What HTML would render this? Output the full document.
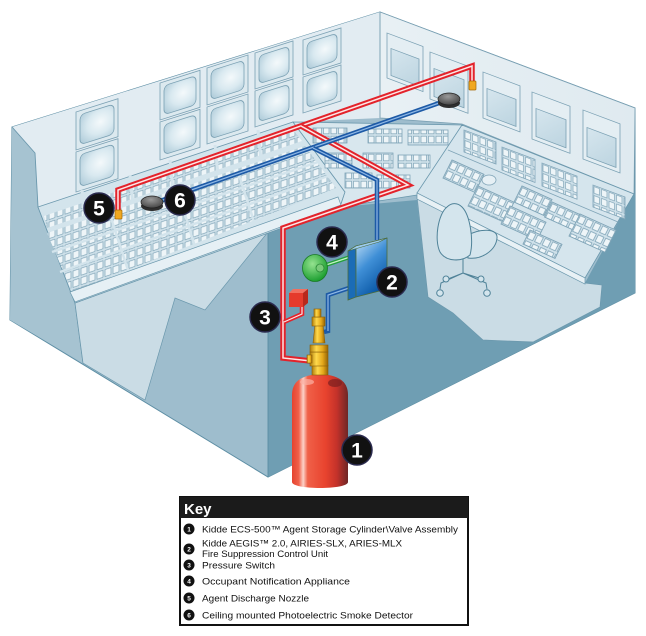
<!DOCTYPE html>
<html><head><meta charset="utf-8"><style>html,body{margin:0;padding:0;background:#fff;}svg{display:block;}</style></head>
<body>
<svg xmlns="http://www.w3.org/2000/svg" width="646" height="636" viewBox="0 0 646 636" font-family="'Liberation Sans', sans-serif">
<defs>
<pattern id="g0" width="7.5" height="9" patternUnits="userSpaceOnUse"><rect width="7.5" height="9" fill="#cfe1ea"/><rect x="1" y="1.2" width="5.5" height="6.6" fill="#eef5f8" stroke="#7fa4b7" stroke-width="0.7"/></pattern>
<pattern id="gl" width="8" height="9.5" patternUnits="userSpaceOnUse" patternTransform="skewY(-18.8)"><rect width="8" height="9.5" fill="#cfe1ea"/><rect x="1" y="1.3" width="6" height="7" fill="#eef5f8" stroke="#7fa4b7" stroke-width="0.7"/></pattern>
<radialGradient id="scrL" cx="0.6" cy="0.45" r="0.7"><stop offset="0" stop-color="#f4f9fb"/><stop offset="0.55" stop-color="#d9e9f0"/><stop offset="1" stop-color="#b4cfdc"/></radialGradient>
<linearGradient id="scrR" x1="0" y1="0" x2="1" y2="1"><stop offset="0" stop-color="#d6e6ee"/><stop offset="1" stop-color="#bcd4e0"/></linearGradient>
<linearGradient id="cyl" x1="0" x2="1" y1="0" y2="0"><stop offset="0" stop-color="#e5432f"/><stop offset="0.12" stop-color="#f0604a"/><stop offset="0.2" stop-color="#fcd2c8"/><stop offset="0.28" stop-color="#f06048"/><stop offset="0.6" stop-color="#e8432e"/><stop offset="0.8" stop-color="#c4322a"/><stop offset="1" stop-color="#6e2626"/></linearGradient>
<linearGradient id="box" x1="0" y1="0" x2="0.5" y2="1"><stop offset="0" stop-color="#c6e3f8"/><stop offset="0.5" stop-color="#3f8fd6"/><stop offset="1" stop-color="#0a58a6"/></linearGradient>
<radialGradient id="horn" cx="0.4" cy="0.35" r="0.7"><stop offset="0" stop-color="#95e390"/><stop offset="1" stop-color="#149a2a"/></radialGradient>
<linearGradient id="gold" x1="0" x2="1"><stop offset="0" stop-color="#b07d0c"/><stop offset="0.35" stop-color="#ffd94c"/><stop offset="0.7" stop-color="#e4a81a"/><stop offset="1" stop-color="#946406"/></linearGradient>
<radialGradient id="det" cx="0.45" cy="0.3" r="0.8"><stop offset="0" stop-color="#9a9a9a"/><stop offset="1" stop-color="#3a3a3a"/></radialGradient>
<linearGradient id="wallR" x1="0" y1="0" x2="1" y2="0"><stop offset="0" stop-color="#e8f0f4"/><stop offset="1" stop-color="#dfeaf0"/></linearGradient>
</defs>

<polygon points="12,127 380,12 635,108 635,293 268,477 10,320" fill="#9ebdcd" stroke="#5d8ea4" stroke-width="1"/>
<polygon points="12,127 35,153 38,207 75,303 83,363 10,320" fill="#a6c3d1"/>
<polygon points="12,127 380,12 380,118 293,122 38,207 35,153" fill="#e2ecf2"/>
<polygon points="380,12 635,108 634,194 462,124 380,118" fill="url(#wallR)" stroke="#7aa0b3" stroke-width="0.8"/>
<line x1="380" y1="12" x2="380" y2="118" stroke="#7aa0b3" stroke-width="0.8"/>
<polyline points="12,127 35,153 38,207 75,303 83,363" fill="none" stroke="#6b98ad" stroke-width="0.9"/>

<g stroke="#7aa0b3" stroke-width="0.8">
<g transform="matrix(1,-0.317,0,1,76,112)"><rect width="42" height="38" fill="#dce9ef"/><rect x="4" y="4" width="34" height="30" rx="5" fill="url(#scrL)"/></g>
<g transform="matrix(1,-0.317,0,1,76,152)"><rect width="42" height="40" fill="#dce9ef"/><rect x="4" y="4" width="34" height="32" rx="5" fill="url(#scrL)"/></g>
<g transform="matrix(1,-0.317,0,1,160,83)"><rect width="40" height="37" fill="#dce9ef"/><rect x="4" y="4" width="32" height="29" rx="5" fill="url(#scrL)"/></g>
<g transform="matrix(1,-0.317,0,1,160,122)"><rect width="40" height="38" fill="#dce9ef"/><rect x="4" y="4" width="32" height="30" rx="5" fill="url(#scrL)"/></g>
<g transform="matrix(1,-0.317,0,1,207,68)"><rect width="41" height="37" fill="#dce9ef"/><rect x="4" y="4" width="33" height="29" rx="5" fill="url(#scrL)"/></g>
<g transform="matrix(1,-0.317,0,1,207,107)"><rect width="41" height="37" fill="#dce9ef"/><rect x="4" y="4" width="33" height="29" rx="5" fill="url(#scrL)"/></g>
<g transform="matrix(1,-0.317,0,1,255,53)"><rect width="38" height="36" fill="#dce9ef"/><rect x="4" y="4" width="30" height="28" rx="5" fill="url(#scrL)"/></g>
<g transform="matrix(1,-0.317,0,1,255,91)"><rect width="38" height="36" fill="#dce9ef"/><rect x="4" y="4" width="30" height="28" rx="5" fill="url(#scrL)"/></g>
<g transform="matrix(1,-0.317,0,1,303,40)"><rect width="38" height="35" fill="#dce9ef"/><rect x="4" y="4" width="30" height="27" rx="5" fill="url(#scrL)"/></g>
<g transform="matrix(1,-0.317,0,1,303,77)"><rect width="38" height="36" fill="#dce9ef"/><rect x="4" y="4" width="30" height="28" rx="5" fill="url(#scrL)"/></g>
</g>
<g stroke="#7aa0b3" stroke-width="0.8">
<g transform="matrix(1,0.376,0,1,387,33)"><rect width="36" height="45" fill="#e4eef3"/><rect x="4" y="14" width="28" height="27" fill="url(#scrR)"/></g>
<g transform="matrix(1,0.376,0,1,430,52)"><rect width="38" height="47" fill="#e4eef3"/><rect x="4" y="15" width="30" height="28" fill="url(#scrR)"/></g>
<g transform="matrix(1,0.376,0,1,483,72)"><rect width="37" height="46" fill="#e4eef3"/><rect x="4" y="15" width="29" height="27" fill="url(#scrR)"/></g>
<g transform="matrix(1,0.376,0,1,532,92)"><rect width="38" height="47" fill="#e4eef3"/><rect x="4" y="15" width="30" height="28" fill="url(#scrR)"/></g>
<g transform="matrix(1,0.376,0,1,583,110)"><rect width="37" height="49" fill="#e4eef3"/><rect x="4" y="16" width="29" height="29" fill="url(#scrR)"/></g>
</g>

<polygon points="268,232 340,207 417,200 428,297 453,313 483,340 533,342 600,307 602,285 585,283 633,195 635,195 635,293 268,477" fill="#6f9eb3"/>
<polygon points="417,196 585,283 602,285 600,307 533,342 483,340 453,313 428,297" fill="#cadce5" stroke="#6b98ad" stroke-width="0.7"/>
<polygon points="75,303 83,363 145,400 175,298 205,310 268,232" fill="#cadce5" stroke="#6b98ad" stroke-width="0.7"/>
<line x1="268" y1="232" x2="268" y2="477" stroke="#5d8ea4" stroke-width="0.9"/>

<polygon points="38,207 293,122 345,192 340,207 75,303" fill="#d3e4ec" stroke="#6b98ad" stroke-width="0.8"/>
<polygon points="44,216 294,131 302,141 47,228" fill="url(#gl)"/>
<g stroke="#d3e4ec" stroke-width="3">
<line x1="82" y1="190" x2="86" y2="230"/><line x1="130" y1="175" x2="134" y2="215"/><line x1="170" y1="160" x2="174" y2="200"/><line x1="215" y1="145" x2="219" y2="185"/><line x1="258" y1="130" x2="262" y2="170"/>
</g>
<polygon points="47,233 305,146 336,188 72,292" fill="url(#gl)"/>
<g stroke="#d3e4ec" stroke-width="2.5" fill="none">
<line x1="52" y1="252" x2="318" y2="162"/>
<line x1="60" y1="272" x2="328" y2="176"/>
<line x1="110" y1="215" x2="128" y2="270"/><line x1="178" y1="192" x2="196" y2="250"/><line x1="238" y1="172" x2="256" y2="228"/>
</g>
<polygon points="70,292 338,197 341,205 75,302" fill="#e6f0f5" stroke="#6b98ad" stroke-width="0.7"/>

<polygon points="293,122 462,125 417,195 340,207 345,192" fill="#d8e7ee" stroke="#6b98ad" stroke-width="0.8"/>
<g stroke="#7fa4b7" stroke-width="0.8" fill="url(#g0)">
<rect x="313" y="128" width="34" height="15"/><rect x="368" y="129" width="34" height="14"/><rect x="408" y="130" width="40" height="15"/>
<rect x="325" y="153" width="27" height="15"/><rect x="363" y="153" width="30" height="15"/><rect x="398" y="155" width="32" height="13"/>
<rect x="345" y="173" width="27" height="15"/><rect x="377" y="175" width="33" height="13"/>
</g>

<polygon points="462,125 634,194 630,201 585,278 417,193" fill="#d5e5ed" stroke="#6b98ad" stroke-width="0.8"/>
<line x1="448" y1="150" x2="618" y2="222" stroke="#7fa4b7" stroke-width="0.8"/>
<polygon points="417,193 585,278 585,284 417,199" fill="#e8f1f5" stroke="#6b98ad" stroke-width="0.7"/>
<g stroke="#7fa4b7" stroke-width="0.8" fill="url(#g0)">
<rect transform="matrix(1,0.376,0,1,464,130)" width="32" height="22"/>
<rect transform="matrix(1,0.376,0,1,502,147)" width="33" height="23"/>
<rect transform="matrix(1,0.376,0,1,542,163)" width="35" height="23"/>
<rect transform="matrix(1,0.376,0,1,593,185)" width="32" height="22"/>
<rect transform="matrix(1,0.45,-0.5,1,452,160)" width="32" height="18"/>
<rect transform="matrix(1,0.45,-0.5,1,478,186)" width="36" height="20"/>
<rect transform="matrix(1,0.45,-0.5,1,522,186)" width="30" height="16"/>
<rect transform="matrix(1,0.45,-0.5,1,510,206)" width="36" height="18"/>
<rect transform="matrix(1,0.45,-0.5,1,552,202)" width="32" height="15"/>
<rect transform="matrix(1,0.45,-0.5,1,530,230)" width="32" height="14"/>
<rect transform="matrix(1,0.45,-0.5,1,580,214)" width="36" height="22"/>
</g>
<ellipse cx="489" cy="180" rx="7" ry="5" fill="#e6f0f5" stroke="#7fa4b7" stroke-width="0.8"/>

<g fill="#d4e5ed" stroke="#4f8298" stroke-width="1">
<path d="M466,236 C480,228 498,228 497,238 C496,250 482,260 468,258 Z"/>
<path d="M447,207 C438,214 434,240 440,252 C446,262 462,262 470,255 C474,240 470,215 462,207 C457,202 451,203 447,207 Z"/>
<path d="M463,259 L463,273 M463,273 L441,283 L440,289 M463,273 L486,283 L487,289 M463,273 L448,279 M463,273 L479,278" fill="none"/>
<circle cx="440" cy="293" r="3.3"/><circle cx="487" cy="293" r="3.3"/><circle cx="446" cy="279" r="3"/><circle cx="481" cy="279" r="3"/>
</g>

<g fill="none" stroke-linejoin="miter">
<path d="M118,214 L118,190 L472,66 L472,83" stroke="#e3232b" stroke-width="5.5"/>
<path d="M118,214 L118,190 L472,66 L472,83" stroke="#fde6e6" stroke-width="1.5"/>
<path d="M301,126 L408,185 L283,228 L283,358 L311,361" stroke="#e3232b" stroke-width="5.5"/>
<path d="M301,126 L408,185 L283,228 L283,358 L311,361" stroke="#fde6e6" stroke-width="1.5"/>
<path d="M302,306 L302,314 L284,322" stroke="#e3232b" stroke-width="4.5"/>
<path d="M302,306 L302,314 L284,322" stroke="#fde6e6" stroke-width="1.2"/>
<path d="M160,201 L442,102" stroke="#1d5aa6" stroke-width="4.5"/>
<path d="M160,201 L442,102" stroke="#8fb8e6" stroke-width="1.2"/>
<path d="M313,148 L377,180 L377,240" stroke="#1d5aa6" stroke-width="4.5"/>
<path d="M313,148 L377,180 L377,240" stroke="#8fb8e6" stroke-width="1.2"/>
<path d="M352,287 L328,295 L328,331 L324,332" stroke="#1d5aa6" stroke-width="4.5"/>
<path d="M352,287 L328,295 L328,331" stroke="#8fb8e6" stroke-width="1.2"/>
<path d="M326,265 L353,256" stroke="#23a03a" stroke-width="4"/>
<path d="M326,265 L353,256" stroke="#c4f3c4" stroke-width="1.2"/>
</g>

<rect x="115" y="210" width="7" height="9" rx="1" fill="#f0a820" stroke="#a56a06" stroke-width="0.7"/>
<rect x="469" y="81" width="7" height="9" rx="1" fill="#f0a820" stroke="#a56a06" stroke-width="0.7"/>
<ellipse cx="152" cy="206" rx="11" ry="5" fill="#2e2e2e"/>
<ellipse cx="152" cy="202" rx="11" ry="6" fill="url(#det)" stroke="#222" stroke-width="0.7"/>
<ellipse cx="449" cy="103" rx="11" ry="5" fill="#2e2e2e"/>
<ellipse cx="449" cy="99" rx="11" ry="6" fill="url(#det)" stroke="#222" stroke-width="0.7"/>

<polygon points="348,251 356,246 356,297 348,300" fill="#1b6cb6" stroke="#4c6b3c" stroke-width="0.8"/>
<polygon points="356,246 387,238 387,289 356,297" fill="url(#box)" stroke="#4c6b3c" stroke-width="0.8"/>
<polygon points="348,251 356,246 387,238 379,242" fill="#9ccbef" stroke="#4c6b3c" stroke-width="0.6"/>
<ellipse cx="315" cy="268" rx="12.5" ry="13.5" fill="url(#horn)" stroke="#1a7a26" stroke-width="0.8"/>
<circle cx="320" cy="268" r="4" fill="#7acb7a" stroke="#2a8a36" stroke-width="0.8"/>
<polygon points="289,293 293,289 308,289 303,293" fill="#f07060"/>
<polygon points="303,293 308,289 308,303 303,307" fill="#b8281c"/>
<rect x="289" y="293" width="14" height="14" fill="#e53b2c"/>

<path d="M292,395 C292,381 302,375 320,374 C338,375 348,381 348,395 L348,482 C348,490 292,490 292,482 Z" fill="url(#cyl)"/>
<ellipse cx="335" cy="383" rx="7" ry="4" fill="#7a2020" opacity="0.7"/>
<ellipse cx="307" cy="382" rx="7" ry="3" fill="#fbb0a4" opacity="0.7"/>
<g fill="url(#gold)" stroke="#8a5e08" stroke-width="0.6">
<rect x="312" y="365" width="16" height="10"/>
<rect x="310" y="352" width="18" height="14"/>
<rect x="307" y="355" width="5" height="8"/>
<rect x="310" y="345" width="18" height="7"/>
<path d="M313,343 L315,325 L323,325 L325,343 Z"/>
<rect x="312" y="317" width="13" height="9"/>
<rect x="314" y="309" width="7" height="8"/>
</g>

<g font-weight="bold" font-size="21" fill="#fff" text-anchor="middle">
<circle cx="357" cy="450" r="15" fill="#111" stroke="#2a2a4e" stroke-width="1.5"/><text x="357" y="457.5">1</text>
<circle cx="392" cy="282" r="15" fill="#111" stroke="#2a2a4e" stroke-width="1.5"/><text x="392" y="289.5">2</text>
<circle cx="265" cy="317" r="15" fill="#111" stroke="#2a2a4e" stroke-width="1.5"/><text x="265" y="324.5">3</text>
<circle cx="332" cy="242" r="15" fill="#111" stroke="#2a2a4e" stroke-width="1.5"/><text x="332" y="249.5">4</text>
<circle cx="99" cy="208" r="15" fill="#111" stroke="#2a2a4e" stroke-width="1.5"/><text x="99" y="215.5">5</text>
<circle cx="180" cy="200" r="15" fill="#111" stroke="#2a2a4e" stroke-width="1.5"/><text x="180" y="207.5">6</text>
</g>

<rect x="180" y="497" width="288" height="128" fill="#fff" stroke="#111" stroke-width="2"/>
<rect x="180" y="497" width="288" height="21" fill="#1b1b1b"/>
<text x="184" y="514" font-size="15" font-weight="bold" fill="#fff">Key</text>
<g font-size="6.5" font-weight="bold" fill="#fff" text-anchor="middle">
<circle cx="189" cy="529" r="5.5" fill="#111"/><text x="189" y="531.3">1</text>
<circle cx="189" cy="549" r="5.5" fill="#111"/><text x="189" y="551.3">2</text>
<circle cx="189" cy="565" r="5.5" fill="#111"/><text x="189" y="567.3">3</text>
<circle cx="189" cy="581" r="5.5" fill="#111"/><text x="189" y="583.3">4</text>
<circle cx="189" cy="598" r="5.5" fill="#111"/><text x="189" y="600.3">5</text>
<circle cx="189" cy="615" r="5.5" fill="#111"/><text x="189" y="617.3">6</text>
</g>
<g font-size="9.5" fill="#111">
<text x="202" y="532.5" textLength="256" lengthAdjust="spacingAndGlyphs">Kidde ECS-500™ Agent Storage Cylinder\Valve Assembly</text>
<text x="202" y="546.5" textLength="200" lengthAdjust="spacingAndGlyphs">Kidde AEGIS™ 2.0, AIRIES-SLX, ARIES-MLX</text>
<text x="202" y="557" textLength="126" lengthAdjust="spacingAndGlyphs">Fire Suppression Control Unit</text>
<text x="202" y="568.5" textLength="73" lengthAdjust="spacingAndGlyphs">Pressure Switch</text>
<text x="202" y="584.5" textLength="148" lengthAdjust="spacingAndGlyphs">Occupant Notification Appliance</text>
<text x="202" y="601.5" textLength="107" lengthAdjust="spacingAndGlyphs">Agent Discharge Nozzle</text>
<text x="202" y="618.5" textLength="211" lengthAdjust="spacingAndGlyphs">Ceiling mounted Photoelectric Smoke Detector</text>
</g>
</svg>
</body></html>
